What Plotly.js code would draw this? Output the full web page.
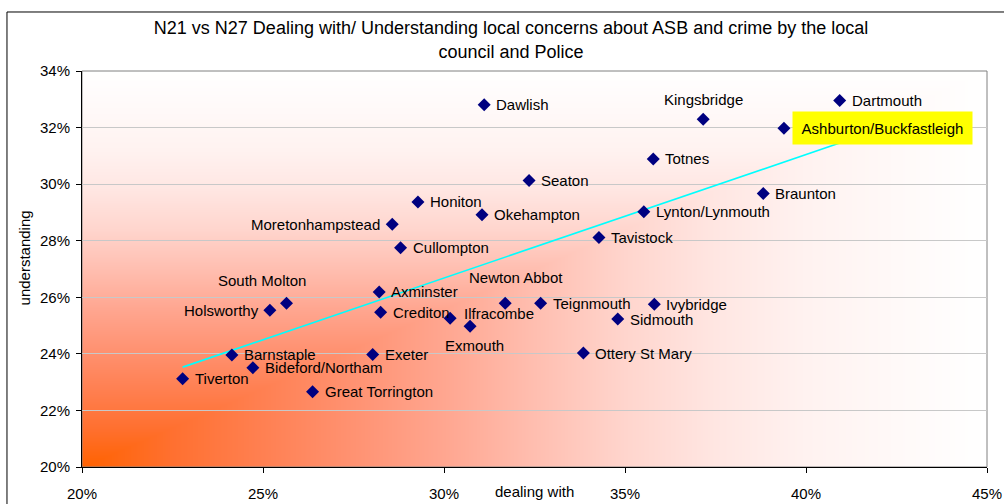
<!DOCTYPE html>
<html>
<head>
<meta charset="utf-8">
<script src="https://cdn.plot.ly/plotly-3.0.1.min.js"></script>
<style>
  html, body { margin: 0; padding: 0; background: #ffffff; overflow: hidden; }
  #chart { width: 1004px; height: 504px; }
</style>
</head>
<body>
<div id="chart"></div>
<script>
// ---- Data ----
const towns = [
  'Dawlish', 'Kingsbridge', 'Dartmouth', 'Ashburton/Buckfastleigh', 'Totnes',
  'Seaton', 'Braunton', 'Honiton', 'Okehampton', 'Lynton/Lynmouth',
  'Moretonhampstead', 'Tavistock', 'Cullompton', 'Axminster', 'South Molton',
  'Holsworthy', 'Crediton', 'Newton Abbot', 'Teignmouth', 'Ilfracombe',
  'Exmouth', 'Ivybridge', 'Sidmouth', 'Ottery St Mary', 'Barnstaple',
  'Exeter', 'Bideford/Northam', 'Tiverton', 'Great Torrington'
];
const dealingWith = [
  0.3111, 0.3716, 0.4093, 0.3939, 0.3578,
  0.3235, 0.3882, 0.2928, 0.3105, 0.3552,
  0.2857, 0.3428, 0.2880, 0.2821, 0.2565,
  0.2519, 0.2825, 0.3169, 0.3267, 0.3017,
  0.3072, 0.3581, 0.3480, 0.3385, 0.2414,
  0.2803, 0.2472, 0.2278, 0.2637
];
const understanding = [
  0.3281, 0.3229, 0.3296, 0.3198, 0.3089,
  0.3013, 0.2967, 0.2937, 0.2892, 0.2902,
  0.2858, 0.2811, 0.2775, 0.2619, 0.2579,
  0.2554, 0.2547, 0.2579, 0.2579, 0.2526,
  0.2498, 0.2575, 0.2523, 0.2403, 0.2396,
  0.2398, 0.2351, 0.2312, 0.2266
];
const highlightedTown = 'Ashburton/Buckfastleigh';
const xTickVals = [0.20, 0.25, 0.30, 0.35, 0.40, 0.45];
const yTickVals = [0.20, 0.22, 0.24, 0.26, 0.28, 0.30, 0.32, 0.34];
const chartTitle = 'N21 vs N27 Dealing with/ Understanding local concerns about ASB and crime by the local<br>council and Police';
const xTitle = 'dealing with';
const yTitle = 'understanding';

// ---- Label placement (style only) ----
const labelPlacement = {
  'Kingsbridge':      {xanchor: 'center', xshift: 0,   yshift: 20},
  'Newton Abbot':     {xanchor: 'center', xshift: 11,  yshift: 26},
  'South Molton':     {xanchor: 'center', xshift: -25, yshift: 23},
  'Holsworthy':       {xanchor: 'right',  xshift: -9,  yshift: 0},
  'Moretonhampstead': {xanchor: 'right',  xshift: -10, yshift: 0},
  'Exmouth':          {xanchor: 'center', xshift: 4,   yshift: -19},
  'Ilfracombe':       {xanchor: 'left',   xshift: 12,  yshift: 5}
};

// ---- Linear trendline (least squares from the data) ----
const n = dealingWith.length;
const mx = dealingWith.reduce((a, b) => a + b, 0) / n;
const my = understanding.reduce((a, b) => a + b, 0) / n;
let sxy = 0, sxx = 0;
for (let i = 0; i < n; i++) {
  sxy += (dealingWith[i] - mx) * (understanding[i] - my);
  sxx += (dealingWith[i] - mx) * (dealingWith[i] - mx);
}
const slope = sxy / sxx;
const intercept = my - slope * mx;
const xMin = Math.min(...dealingWith), xMax = Math.max(...dealingWith);
const trendX = [xMin, xMax];
const trendY = trendX.map(v => intercept + slope * v);

// ---- Background gradient (Excel "from corner" fill) ----
const W = 905, H = 396;
const stops = [
  [0.0, [255, 98, 0]], [0.1, [255, 112, 48]], [0.2, [255, 128, 82]],
  [0.3, [255, 146, 114]], [0.4, [255, 166, 144]], [0.5, [255, 190, 176]],
  [0.6, [255, 213, 205]], [0.7, [255, 230, 226]], [0.8, [255, 242, 240]],
  [0.9, [255, 249, 248]], [1.0, [255, 255, 255]]
];
function colorAt(t) {
  t = Math.max(0, Math.min(1, t));
  for (let i = 0; i < stops.length - 1; i++) {
    const a = stops[i], b = stops[i + 1];
    if (t <= b[0]) {
      const f = (t - a[0]) / (b[0] - a[0]);
      return [0, 1, 2].map(k => Math.round(a[1][k] + (b[1][k] - a[1][k]) * f));
    }
  }
  return stops[stops.length - 1][1];
}
const canvas = document.createElement('canvas');
canvas.width = W; canvas.height = H;
const ctx = canvas.getContext('2d');
const img = ctx.createImageData(W, H);
for (let yy = 0; yy < H; yy++) {
  for (let xx = 0; xx < W; xx++) {
    const fx = xx / W, fy = (H - yy) / H;
    const c = colorAt(Math.max(fx, fy));
    const p = (yy * W + xx) * 4;
    img.data[p] = c[0]; img.data[p + 1] = c[1]; img.data[p + 2] = c[2]; img.data[p + 3] = 255;
  }
}
ctx.putImageData(img, 0, 0);
const bgURL = canvas.toDataURL('image/png');

// ---- Annotations (labels) ----
const FONT = 'Liberation Sans, Arial, sans-serif';
const annotations = towns.map((name, i) => {
  const base = {
    x: dealingWith[i], y: understanding[i], xref: 'x', yref: 'y',
    text: name, showarrow: false, yanchor: 'middle',
    font: {family: FONT, size: 15, color: '#000000'}
  };
  if (name === highlightedTown) {
    return Object.assign(base, {xanchor: 'left', xshift: 8, yshift: 0,
      bgcolor: '#FFFF00', width: 171, height: 24, borderpad: 4, align: 'center'});
  }
  const p = labelPlacement[name] || {xanchor: 'left', xshift: 10, yshift: 0};
  return Object.assign(base, p);
});
annotations.push({
  text: xTitle, xref: 'paper', yref: 'paper', x: 0.5, y: -0.0631,
  xanchor: 'center', yanchor: 'middle', showarrow: false,
  font: {family: FONT, size: 15, color: '#000000'}
});
annotations.push({
  text: yTitle, xref: 'paper', yref: 'paper', x: -0.0635, y: 0.528,
  xanchor: 'center', yanchor: 'middle', showarrow: false, textangle: -90,
  font: {family: FONT, size: 15, color: '#000000'}
});

const traces = [
  {
    x: trendX, y: trendY, mode: 'lines', type: 'scatter',
    line: {color: '#00FFFF', width: 1.6}, hoverinfo: 'skip', showlegend: false
  },
  {
    x: dealingWith, y: understanding, mode: 'markers', type: 'scatter',
    marker: {symbol: 'diamond', size: 10, color: '#000080'},
    text: towns, showlegend: false
  }
];

const layout = {
  width: 1004, height: 504,
  margin: {l: 82, r: 17, t: 71, b: 37, pad: 0},
  paper_bgcolor: '#FFFFFF', plot_bgcolor: '#FFFFFF',
  showlegend: false,
  font: {family: FONT, size: 15, color: '#000000'},
  title: {
    text: chartTitle, x: 0.509, xanchor: 'center', xref: 'container',
    y: 0.932, yanchor: 'top', yref: 'container',
    font: {family: FONT, size: 18, color: '#000000'}
  },
  xaxis: {
    range: [0.20, 0.45], tickvals: xTickVals, tickformat: '.0%',
    showgrid: false, zeroline: false,
    showline: true, linecolor: '#000000', linewidth: 1,
    ticks: 'outside', ticklen: 5, tickcolor: '#000000',
    ticklabelstandoff: 8,
    tickfont: {family: FONT, size: 15, color: '#000000'}
  },
  yaxis: {
    range: [0.20, 0.34], tickvals: yTickVals, tickformat: '.0%',
    showgrid: true, gridcolor: '#C8C8C8', gridwidth: 1, zeroline: false,
    showline: true, linecolor: '#000000', linewidth: 1,
    ticks: 'outside', ticklen: 5, tickcolor: '#000000',
    ticklabelstandoff: 3,
    tickfont: {family: FONT, size: 15, color: '#000000'}
  },
  images: [{
    source: bgURL, xref: 'paper', yref: 'paper', x: 0, y: 1,
    sizex: 1, sizey: 1, sizing: 'stretch', xanchor: 'left', yanchor: 'top',
    layer: 'below'
  }],
  shapes: [
    {type: 'rect', xref: 'paper', yref: 'paper', x0: 0, x1: 1, y0: 0, y1: 1,
     line: {color: '#808080', width: 1}, layer: 'below'},
    {type: 'rect', xref: 'paper', yref: 'paper', x0: -0.0829, x1: 1.2, y0: -0.5, y1: 1.149,
     line: {color: '#000000', width: 1}, fillcolor: 'rgba(0,0,0,0)', layer: 'above'}
  ],
  annotations: annotations
};

Plotly.newPlot('chart', traces, layout, {staticPlot: true, displayModeBar: false});
</script>
</body>
</html>
